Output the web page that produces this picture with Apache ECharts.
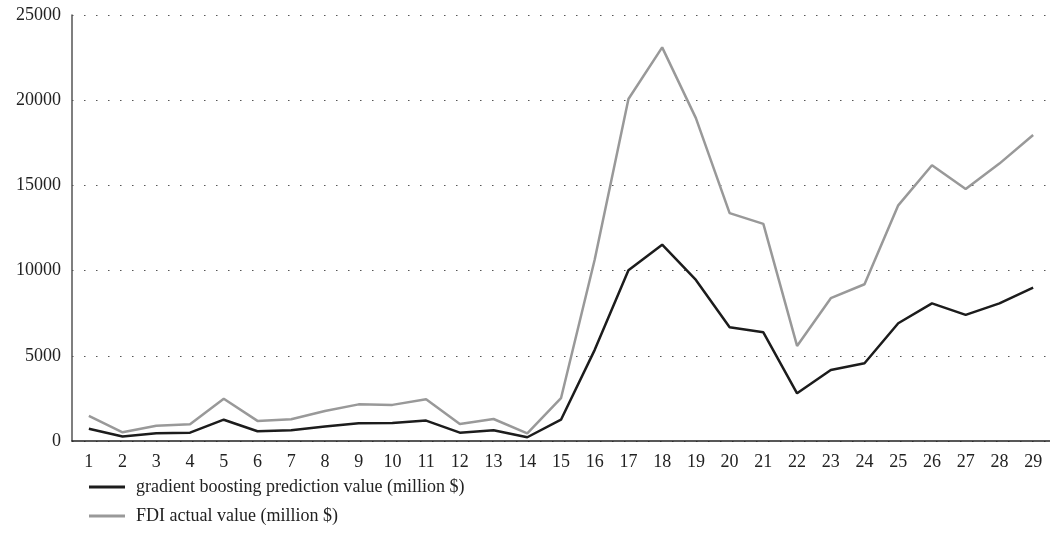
<!DOCTYPE html>
<html>
<head>
<meta charset="utf-8">
<script src="https://cdn.jsdelivr.net/npm/echarts@6/dist/echarts.min.js"></script>
<style>html,body{margin:0;padding:0;background:#fff;}#c{width:1050px;height:550px;}</style>
</head>
<body>
<div id="c"></div>
<script>
const categories = ['1','2','3','4','5','6','7','8','9','10','11','12','13','14','15','16','17','18','19','20','21','22','23','24','25','26','27','28','29'];
const predictionValues = [720, 260, 450, 490, 1250, 570, 630, 850, 1040, 1050, 1200, 490, 630, 220, 1250, 5350, 10020, 11520, 9450, 6670, 6380, 2800, 4170, 4560, 6910, 8080, 7400, 8080, 9000];
const actualValues = [1470, 510, 900, 980, 2480, 1180, 1280, 1760, 2150, 2120, 2450, 1000, 1290, 450, 2510, 10650, 20070, 23100, 18950, 13370, 12740, 5580, 8380, 9200, 13830, 16180, 14790, 16280, 17960];
const yTicks = { min: 0, max: 25000, interval: 5000 };
const seriesNames = ['gradient boosting prediction value (million $)', 'FDI actual value (million $)'];

const chart = echarts.init(document.getElementById('c'), null, { renderer: 'canvas' });
const font = 'Liberation Serif';
chart.setOption({
  animation: false,
  backgroundColor: '#fff',
  textStyle: { fontFamily: font },
  grid: { left: 72, right: -6, top: 15, bottom: 109, containLabel: false },
  legend: {
    orient: 'vertical',
    left: 84,
    top: 473,
    itemGap: 11,
    itemWidth: 36,
    itemHeight: 3,
    icon: 'rect',
    textStyle: { fontFamily: font, fontSize: 18, color: '#222', padding: [0, 0, 0, 6] },
    data: seriesNames
  },
  xAxis: {
    type: 'category',
    data: categories,
    boundaryGap: true,
    axisLine: { show: true, lineStyle: { color: '#222', width: 1.5 } },
    axisTick: { show: false },
    axisLabel: { fontFamily: font, fontSize: 18, color: '#222', margin: 12 },
    splitLine: { show: false }
  },
  yAxis: {
    type: 'value',
    min: yTicks.min,
    max: yTicks.max,
    interval: yTicks.interval,
    axisLine: { show: true, lineStyle: { color: '#555', width: 1.5 } },
    axisTick: { show: false },
    axisLabel: { fontFamily: font, fontSize: 18, color: '#222', margin: 11, formatter: v => String(v) },
    splitLine: { show: true, lineStyle: { color: '#555', width: 1, type: [1.5, 10.5], dashOffset: -12 } }
  },
  series: [
    {
      name: seriesNames[0],
      type: 'line',
      data: predictionValues,
      symbol: 'none',
      z: 3,
      lineStyle: { color: '#1c1c1c', width: 2.5 },
      itemStyle: { color: '#1c1c1c' }
    },
    {
      name: seriesNames[1],
      type: 'line',
      data: actualValues,
      symbol: 'none',
      z: 2,
      lineStyle: { color: '#999999', width: 2.5 },
      itemStyle: { color: '#999999' }
    }
  ]
});
</script>
</body>
</html>
